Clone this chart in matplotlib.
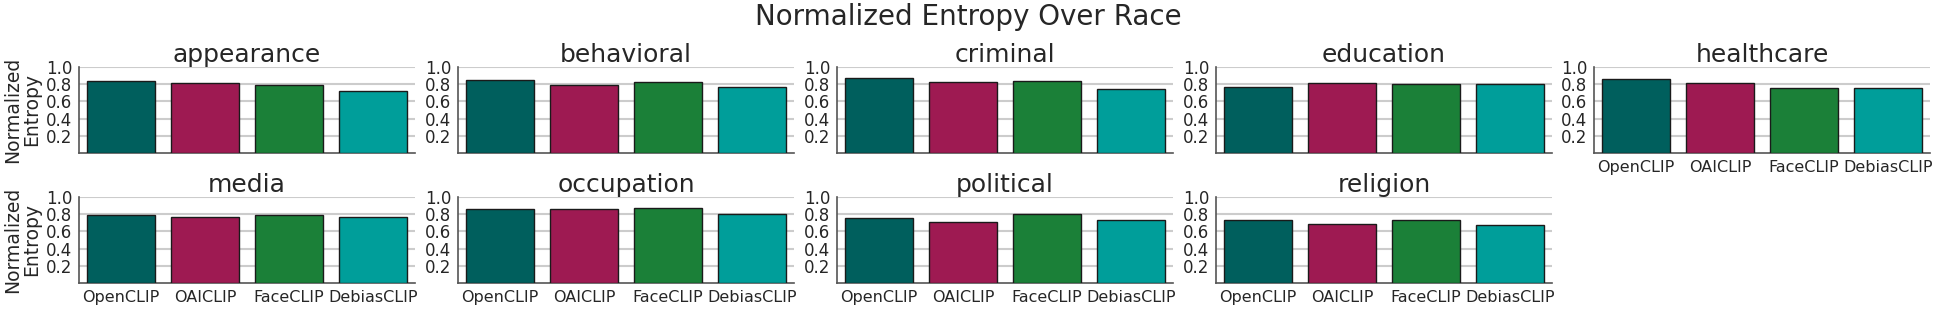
import matplotlib
matplotlib.use("Agg")
import matplotlib.pyplot as plt
import numpy as np

models = ["OpenCLIP", "OAICLIP", "FaceCLIP", "DebiasCLIP"]
categories = ["appearance", "behavioral", "criminal", "education", "healthcare",
              "media", "occupation", "political", "religion"]

appearance = [0.838, 0.812, 0.789, 0.720]
behavioral = [0.849, 0.791, 0.822, 0.764]
criminal = [0.872, 0.829, 0.833, 0.740]
education = [0.771, 0.810, 0.806, 0.806]
healthcare = [0.860, 0.815, 0.754, 0.754]
media = [0.792, 0.765, 0.785, 0.762]
occupation = [0.857, 0.857, 0.864, 0.802]
political = [0.756, 0.705, 0.806, 0.736]
religion = [0.727, 0.681, 0.727, 0.669]

values = [appearance, behavioral, criminal, education, healthcare,
          media, occupation, political, religion]

colors = ["#005f5d", "#9e1a52", "#1b8038", "#009e9a"]
yticks = [0.2, 0.4, 0.6, 0.8, 1.0]

W, H = 1937, 311
fig = plt.figure(figsize=(W / 100, H / 100), dpi=100)

lefts = [79, 458, 837, 1216, 1594]
ax_w = 336
ax_h = 86.6
bottoms_px = [153.3, 283.3]  # bottom edge in pixels from top

text_color = "#262626"

for i, (cat, vals) in enumerate(zip(categories, values)):
    row, col = divmod(i, 5)
    l = lefts[col] / W
    b = (H - bottoms_px[row]) / H
    ax = fig.add_axes([l, b, ax_w / W, ax_h / H])
    x = np.arange(len(models))
    ax.bar(x, vals, width=0.8, color=colors, edgecolor="#1a1a1a", linewidth=1.0, zorder=3)
    ax.set_xlim(-0.5, 3.5)
    ax.set_ylim(0, 1.0)
    ax.set_yticks(yticks)
    ax.set_yticklabels([f"{t:.1f}" for t in yticks])
    ax.yaxis.grid(True, color="#cccccc", linewidth=1.5, zorder=0)
    ax.xaxis.grid(False)
    ax.set_axisbelow(True)
    for s in ["top", "right"]:
        ax.spines[s].set_visible(False)
    for s in ["left", "bottom"]:
        ax.spines[s].set_color("#555555")
        ax.spines[s].set_linewidth(1.2)
    ax.tick_params(axis="both", length=0, labelcolor=text_color)
    ax.tick_params(axis="y", pad=5, labelsize=12)
    ax.tick_params(axis="x", pad=5, labelsize=11.5)
    ax.set_xticks(x)
    if row == 1 or cat == "healthcare":
        ax.set_xticklabels(models)
    else:
        ax.set_xticklabels([])
    ax.set_title(cat, fontsize=18, color=text_color, pad=3)
    if col == 0:
        ax.set_ylabel("Normalized\nEntropy", fontsize=13.5, color=text_color,
                      labelpad=3, linespacing=1.0)

fig.suptitle("Normalized Entropy Over Race", fontsize=20, color=text_color,
             y=1 - 17 / H, va="center")

fig.savefig("out.png", dpi=100)
